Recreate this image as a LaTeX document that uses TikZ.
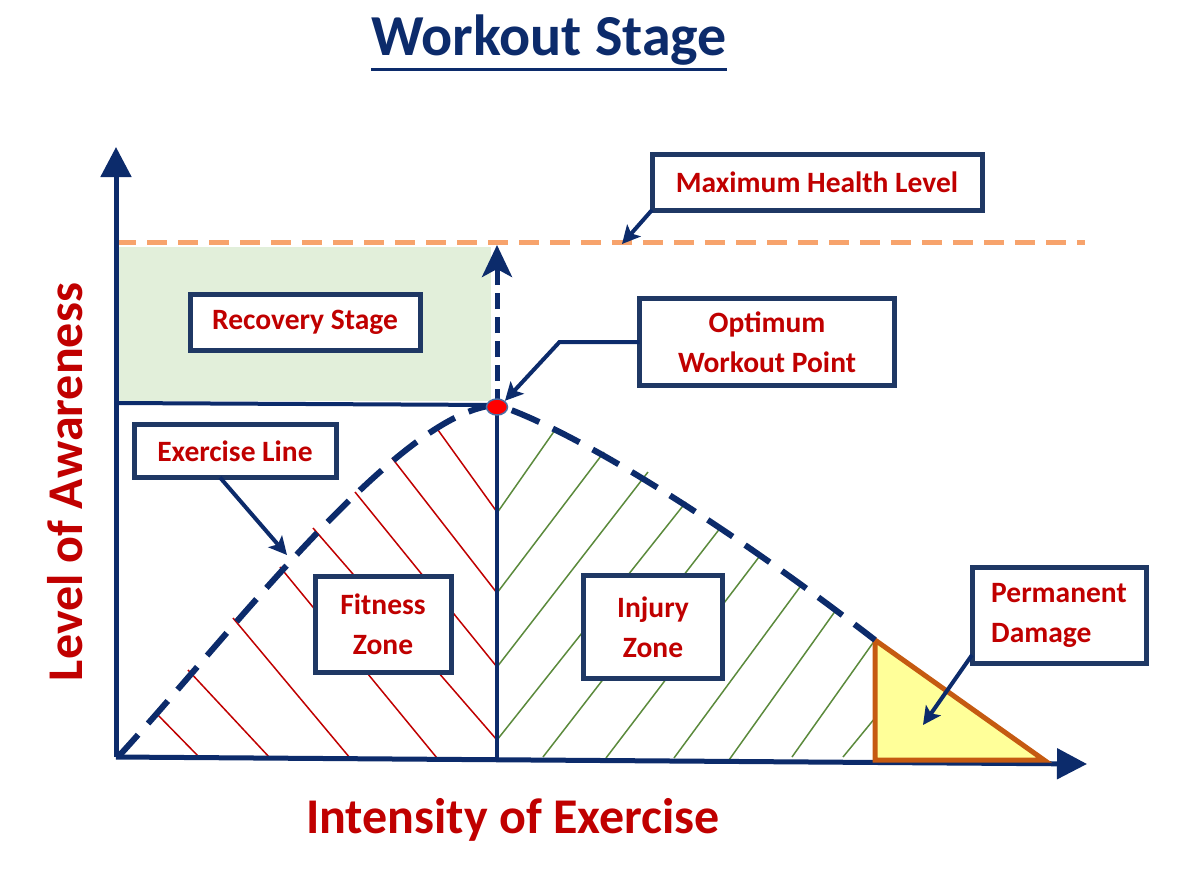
\documentclass[tikz,border=0pt]{standalone}
\usepackage{fontspec}
\setmainfont{Carlito}
\usetikzlibrary{arrows.meta,shapes.geometric}
\definecolor{dnavy}{HTML}{0C2B6B}
\definecolor{boxline}{HTML}{1F3864}
\definecolor{tred}{HTML}{C00000}
\definecolor{peach}{HTML}{F7A36C}
\definecolor{recfill}{HTML}{E2EFDA}
\definecolor{hgreen}{HTML}{5B8A3C}
\definecolor{dmgfill}{HTML}{FFFF99}
\definecolor{dmgline}{HTML}{C55A11}
\definecolor{dotline}{HTML}{4A6FA5}

\begin{document}
\begin{tikzpicture}[x=1pt, y=-1pt, font=\bfseries\fontsize{29.5}{40}\selectfont,
  box/.style={draw=boxline, line width=5pt, fill=white, text=tred, align=center, inner sep=0pt, outer sep=0pt},
  axisline/.style={dnavy, line width=5pt, -{Triangle[length=30pt,width=30pt]}},
  pointer/.style={dnavy, line width=4pt, -{Stealth[length=18pt,width=18pt,inset=4pt]}},
  exline/.style={dnavy, line width=6pt, dash pattern=on 30pt off 15pt},
  maxlevel/.style={peach, line width=5pt, dash pattern=on 20pt off 11pt},
  fithatch/.style={tred, line width=1.5pt},
  injhatch/.style={hgreen, line width=1.5pt},
  biglabel/.style={text=tred, font=\bfseries\fontsize{50}{60}\selectfont, inner sep=0pt}]
\useasboundingbox (0,0) rectangle (1200,881);
% ---------------- title
\node[font=\bfseries\fontsize{58}{60}\selectfont, text=dnavy, inner sep=0pt, anchor=base] (title) at (549,55) {Workout Stage};
\draw[dnavy, line width=3pt] ([yshift=-14pt]title.base west) -- ([yshift=-14pt]title.base east);
% ---------------- key points
\coordinate (O) at (116,757);
\coordinate (ytip) at (116,147);
\coordinate (xtip) at (1087,764);
\coordinate (peak) at (497,405);
\coordinate (foot) at (497,760);
\coordinate (mh0) at (116,242);
\coordinate (mh1) at (1085,242);
\coordinate (mhl) at (622,244);
\coordinate (reclow) at (116,403);
\coordinate (dmgtop) at (875,640);
\coordinate (dmgleft) at (875,760);
\coordinate (dmgright) at (1044,760);
% ---------------- recovery area and health level
\fill[recfill] (118,247) rectangle (491,401);
\draw[maxlevel] (mh0) -- (mh1);
% ---------------- zones
\foreach \xa/\ya/\xb/\yb in {155/712/200/758, 188/670/270/758, 233/618/350/758, 280/567/437/758,
    313/528/497/740, 355/492/497/667, 392/458/497/593, 438/430/497/512}
  \draw[fithatch] (\xa,\ya) -- (\xb,\yb);
\foreach \xa/\ya/\xb/\yb in {555/430/497/513, 604/452/497/593, 648/472/497/667, 686/502/497/740,
    721/527/543/757, 759/557/606/758, 800/587/674/758, 836/610/729/760, 875/640/792/757, 875/718/843/757}
  \draw[injhatch] (\xa,\ya) -- (\xb,\yb);
% ---------------- axes
\draw[axisline] (O) -- (ytip);
\draw[axisline] (O) -- (xtip);
\filldraw[fill=dmgfill, draw=dmgline, line width=5pt] (dmgtop) -- (dmgleft) -- (dmgright) -- cycle;
% ---------------- exercise line and optimum
\draw[exline] (118,757) .. controls (230,635) and (400,410) .. (peak) .. controls (560,425) and (700,505) .. (dmgtop);
\draw[dnavy, line width=4pt] (reclow) -- (peak);
\draw[dnavy, line width=4.5pt] (peak) -- (foot);
\draw[dnavy, line width=5pt, dash pattern=on 16pt off 8pt, -{Stealth[length=32pt,width=30pt,inset=8pt]}] (peak) -- (497,245);
% ---------------- axis labels
\node[biglabel, rotate=90, anchor=base] (ylab) at (82,482) {Level of Awareness};
\node[biglabel, anchor=base] (xlab) at (513,833) {Intensity of Exercise};
% ---------------- boxes
\node[box, minimum width=330pt, minimum height=56pt] (maxbox) at (817,182) {Maximum Health Level};
\node[box, minimum width=255pt, minimum height=87pt] (optbox) at (767,342) {Optimum\\ Workout Point};
\node[box, minimum width=230pt, minimum height=56pt] (recbox) at (305,322) {Recovery Stage};
\node[box, minimum width=202pt, minimum height=53pt] (exbox) at (235,451) {Exercise Line};
\node[box, minimum width=136pt, minimum height=96pt] (fitbox) at (383,624) {Fitness\\ Zone};
\node[box, minimum width=139pt, minimum height=103pt] (injbox) at (653,627) {Injury\\ Zone};
\node[box, minimum width=174pt, minimum height=96pt, align=left] (permbox) at (1059,615) {Permanent\\ Damage};
\node[ellipse, fill=red, draw=dotline, line width=1.5pt, minimum width=21pt, minimum height=16pt, inner sep=0pt] (opt) at (497,407) {};
% ---------------- pointers
\draw[pointer] (maxbox.south west) -- (mhl);
\draw[pointer] (optbox.west) -- ++(-80,0) -- (opt.north east);
\draw[pointer] ([xshift=-15pt]exbox.south) -- (287,555);
\draw[pointer] ([yshift=8pt]permbox.south west) -- (923,725);
\end{tikzpicture}
\end{document}
